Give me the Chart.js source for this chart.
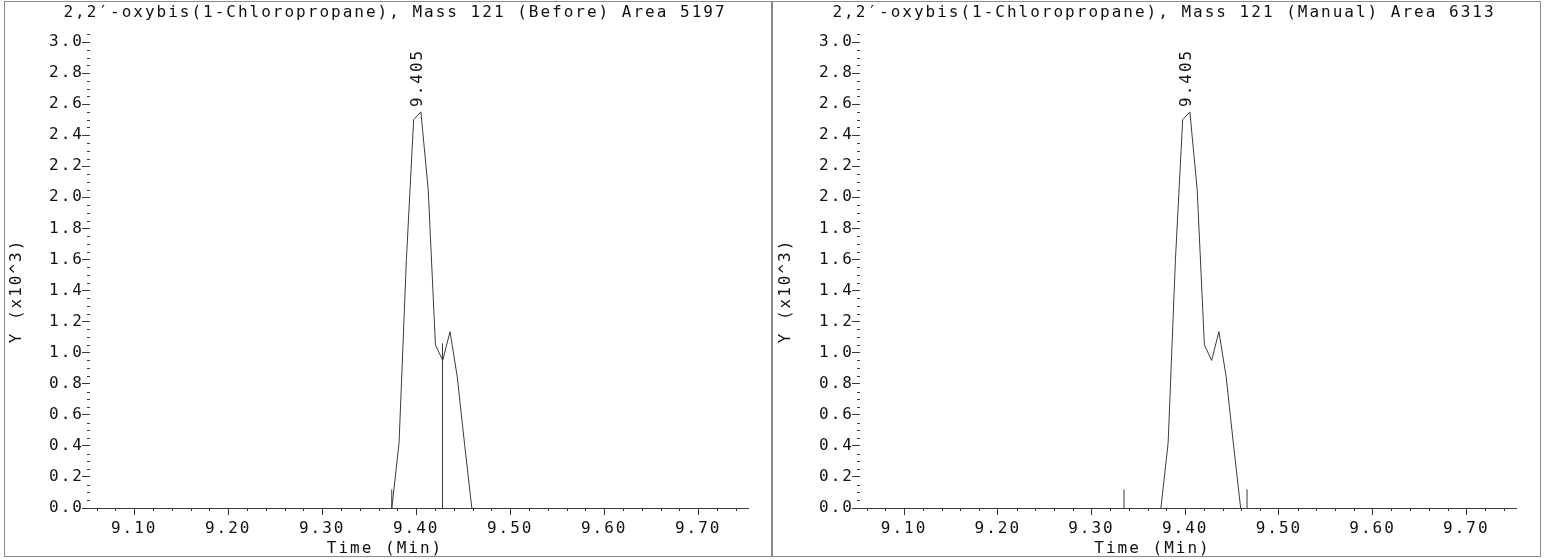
<!DOCTYPE html>
<html><head><meta charset="utf-8">
<script src="https://cdn.jsdelivr.net/npm/chart.js@4.4.1/dist/chart.umd.min.js"></script>
<style>
html,body{margin:0;padding:0;background:#fff;width:1545px;height:559px;overflow:hidden}
.panel{position:absolute;top:0;height:559px}
.panel canvas{display:block}
.box{position:absolute;border:1px solid #8a8a8a;box-sizing:border-box;pointer-events:none}
</style></head><body>
<div class="panel" style="left:0;width:772px"><canvas id="c1" width="772" height="559"></canvas></div>
<div class="panel" style="left:772px;width:773px"><canvas id="c2" width="773" height="559"></canvas></div>
<div class="box" style="left:4px;top:1px;width:768px;height:556px"></div>
<div class="box" style="left:772px;top:1px;width:769px;height:556px"></div>
<script>
// ---- data ----
const scanTimes = [9.3741, 9.3818, 9.3896, 9.3973, 9.4050, 9.4128, 9.4205, 9.4282, 9.4360, 9.4437, 9.4515, 9.4592];
const intensity = [0.00, 0.42, 1.60, 2.50, 2.55, 2.05, 1.05, 0.95, 1.135, 0.845, 0.41, 0.00]; // x10^3
const peakTime = 9.405;
const beforeMarkerTimes = [9.374, 9.428];
const beforeMarkerHeights = [0.12, 1.06];
const manualMarkerTimes = [9.3347, 9.466];
const manualMarkerHeights = [0.12, 0.12];
const xTickValues = [9.10, 9.20, 9.30, 9.40, 9.50, 9.60, 9.70];
const yTickValues = [0.0, 0.2, 0.4, 0.6, 0.8, 1.0, 1.2, 1.4, 1.6, 1.8, 2.0, 2.2, 2.4, 2.6, 2.8, 3.0];
const xMinorStep = 0.02;
const yMinorStep = 0.05;
const xRange = [9.053, 9.753];
const yRange = [0, 3.058];
const titleBefore = "2,2′-oxybis(1-Chloropropane), Mass 121 (Before) Area 5197";
const titleManual = "2,2′-oxybis(1-Chloropropane), Mass 121 (Manual) Area 6313";
const xAxisTitle = "Time (Min)";
const yAxisTitle = "Y (x10^3)";

// ---- styling ----
const FAMILY = '"DejaVu Sans Mono", "Liberation Mono", monospace';
const FSIZE = 16;
const LS = '2px';
const TEXT = '#111';
const INK = '#3a3a3a';

const decor = {
  id: 'decor',
  beforeDraw(chart) { chart.ctx.letterSpacing = LS; },
  afterDraw(chart, args, cfg) {
    const {ctx, chartArea: a, scales: {x, y}} = chart;
    ctx.save();
    ctx.letterSpacing = LS;
    ctx.strokeStyle = INK; ctx.lineWidth = 1;
    ctx.beginPath();
    for (let k = Math.ceil(x.min / xMinorStep - 1e-9); k * xMinorStep <= x.max + 1e-9; k++) {
      const v = k * xMinorStep;
      if (xTickValues.some(t => Math.abs(t - v) < 1e-6)) continue;
      const px = Math.round(x.getPixelForValue(v)) + 0.5;
      ctx.moveTo(px, a.bottom); ctx.lineTo(px, a.bottom + 3);
    }
    for (let k = 1; k * yMinorStep <= y.max + 1e-9; k++) {
      const v = k * yMinorStep;
      if (yTickValues.some(t => Math.abs(t - v) < 1e-6)) continue;
      const py = Math.round(y.getPixelForValue(v)) + 0.5;
      ctx.moveTo(a.left - 3, py); ctx.lineTo(a.left, py);
    }
    ctx.stroke();

    ctx.font = FSIZE + 'px ' + FAMILY;
    ctx.fillStyle = TEXT;
    ctx.textAlign = 'center';
    ctx.textBaseline = 'middle';
    ctx.fillText(cfg.title, cfg.titleX, 12.5);
    ctx.fillText(xAxisTitle, cfg.timeX, 549);
    ctx.save();
    ctx.translate(cfg.yTitleX, 291);
    ctx.rotate(-Math.PI / 2);
    ctx.fillText(yAxisTitle, 0, 0);
    ctx.restore();
    // peak label
    const pi = intensity.indexOf(Math.max(...intensity));
    const px = x.getPixelForValue(peakTime);
    const py = y.getPixelForValue(intensity[pi]);
    ctx.save();
    ctx.translate(px - 3.5, py - 5);
    ctx.rotate(-Math.PI / 2);
    ctx.textAlign = 'left';
    ctx.fillText(peakTime.toFixed(3), 0, 0);
    ctx.restore();
    ctx.restore();
  }
};

function makeChart(id, p) {
  const datasets = [{
    data: scanTimes.map((t, i) => ({x: t, y: intensity[i]})),
    borderColor: INK, borderWidth: 1, pointRadius: 0, tension: 0, fill: false
  }];
  p.markerTimes.forEach((t, i) => datasets.push({
    data: [{x: t, y: 0}, {x: t, y: p.markerHeights[i]}],
    borderColor: INK, borderWidth: 1, pointRadius: 0, fill: false
  }));
  const font = {family: FAMILY, size: FSIZE};
  return new Chart(document.getElementById(id), {
    type: 'line',
    data: {datasets},
    plugins: [decor],
    options: {
      responsive: false, animation: false, devicePixelRatio: 1, events: [],
      layout: {padding: {left: 0, top: 33, right: p.padRight, bottom: 0}},
      plugins: {
        legend: {display: false}, tooltip: {enabled: false},
        decor: {title: p.title, titleX: p.titleX, timeX: p.timeX, yTitleX: p.yTitleX}
      },
      scales: {
        x: {
          type: 'linear', min: xRange[0], max: xRange[1],
          afterBuildTicks: s => { s.ticks = xTickValues.map(v => ({value: v})); },
          afterFit: s => { s.height = 51; },
          ticks: {font, color: TEXT, padding: 4, maxRotation: 0, autoSkip: false,
                  callback: v => Number(v).toFixed(2)},
          grid: {display: true, drawOnChartArea: false, drawTicks: true, tickLength: 7, color: INK, lineWidth: 1},
          border: {display: true, color: INK, width: 1}
        },
        y: {
          type: 'linear', min: yRange[0], max: yRange[1],
          afterBuildTicks: s => { s.ticks = yTickValues.map(v => ({value: v})); },
          afterFit: s => { s.width = p.yWidth; },
          ticks: {font, color: TEXT, padding: -2, callback: v => Number(v).toFixed(1)},
          grid: {display: true, drawOnChartArea: false, drawTicks: true, tickLength: 8, color: INK, lineWidth: 1},
          border: {display: false}
        }
      }
    }
  });
}

makeChart('c1', {title: titleBefore, titleX: 395, timeX: 385, yTitleX: 17, yWidth: 90, padRight: 24,
  markerTimes: beforeMarkerTimes, markerHeights: beforeMarkerHeights});
makeChart('c2', {title: titleManual, titleX: 392, timeX: 380.5, yTitleX: 14, yWidth: 88, padRight: 29,
  markerTimes: manualMarkerTimes, markerHeights: manualMarkerHeights});
</script>
</body></html>
